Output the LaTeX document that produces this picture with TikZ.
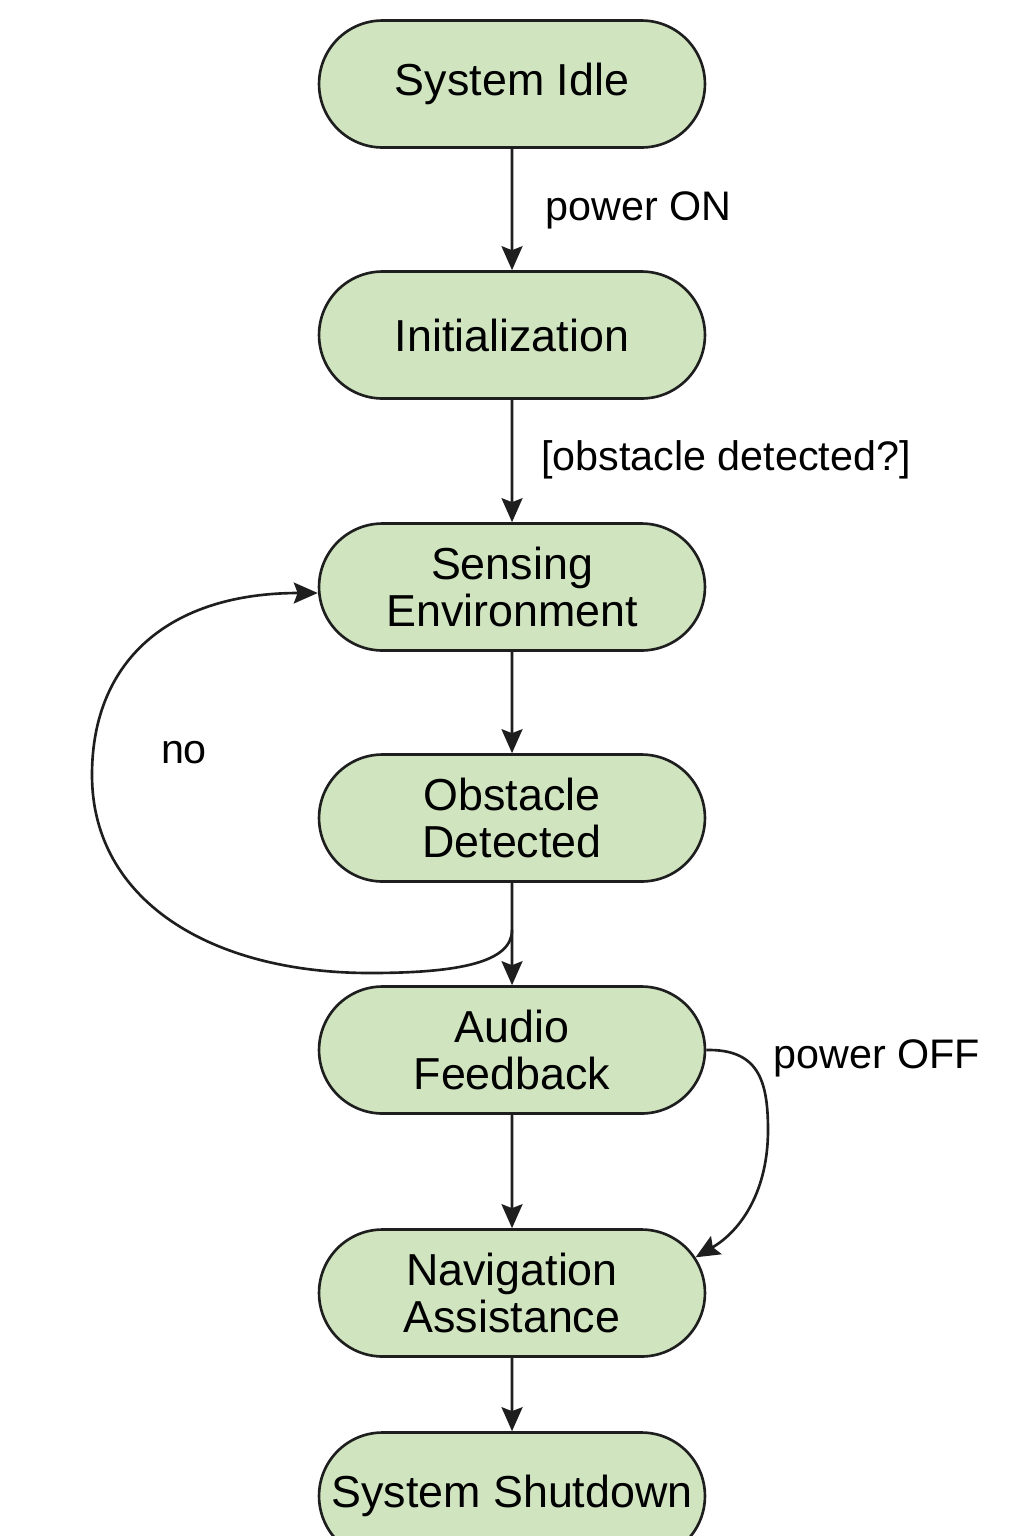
\documentclass[tikz,border=0pt]{standalone}
\usepackage{fontspec}
\setmainfont{Liberation Sans}
\usepackage{xcolor}
\usepackage{tikz}
\usetikzlibrary{shapes.misc,arrows.meta}

\definecolor{stategreen}{HTML}{CFE4BF}
\definecolor{edgegray}{HTML}{1E1E1E}

\begin{document}
\begin{tikzpicture}[x=0.02cm,y=-0.02cm,line width=1.5pt,
    >={Stealth[length=0.48cm,width=0.42cm,inset=0.08cm]}]
    \tikzstyle{state}=[rounded rectangle,draw=edgegray,fill=stategreen,minimum width=7.72cm,minimum height=2.54cm,inner sep=0pt,align=center,font=\fontsize{25.5}{27}\selectfont]
    \tikzstyle{guard}=[anchor=west,inner sep=0pt,font=\fontsize{23.5}{25}\selectfont]
    \tikzstyle{trans}=[->,draw=edgegray]

    \useasboundingbox (0,0) rectangle (1024,1536);

    % Draw the states, top to bottom
    \node[state] (idle) at (512,84) {System Idle};
    \node[state] (init) at (512,335) {Initialization};
    \node[state] (sensing) at (512,587) {Sensing\\Environment};
    \node[state] (obstacle) at (512,818) {Obstacle\\Detected};
    \node[state] (audio) at (512,1050) {Audio\\Feedback};
    \node[state] (nav) at (512,1293) {Navigation\\Assistance};
    \node[state] (shutdown) at (512,1496) {System Shutdown};

    % Connect each state with the next one
    \foreach \source/\dest in {idle/init,init/sensing,sensing/obstacle,obstacle/audio,audio/nav,nav/shutdown}
        \draw[trans] (\source) -- (\dest);

    % Loop back when nothing is found
    \coordinate (split) at (512,930);
    \draw[trans] (split) .. controls (512,962) and (460,973) .. (370,973)
        .. controls (210,973) and (92,900) .. (92,775)
        .. controls (92,660) and (170,593) .. (sensing.west |- 0,593);

    % Shortcut to navigation
    \draw[trans] (audio.east) .. controls (758,1049) and (768,1080) .. (768,1130)
        .. controls (768,1190) and (742,1230) .. (nav.11);

    % Annotate the transitions
    \node[guard] (lon) at (544,210) {power ON};
    \node[guard] (lguard) at (540,460) {[obstacle detected?]};
    \node[guard,anchor=center] (lno) at (184,753) {no};
    \node[guard] (loff) at (772,1058) {power OFF};
\end{tikzpicture}
\end{document}
